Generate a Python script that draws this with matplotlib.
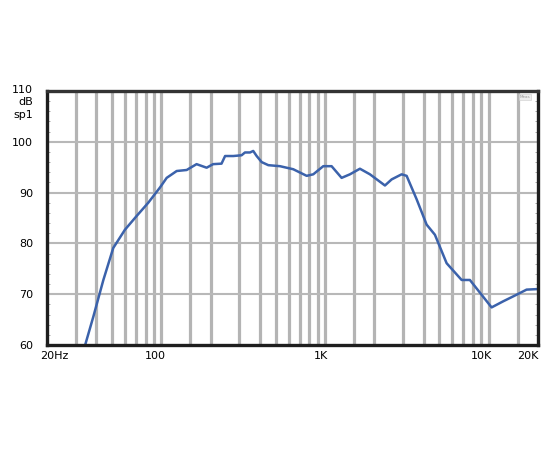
import numpy as np
import matplotlib
matplotlib.use('Agg')
import matplotlib.pyplot as plt
import matplotlib.transforms as mtransforms

# frequency response
freq = [34, 38.4, 44.2, 50.8, 59.9, 70.6, 83.1, 98, 107.7, 124, 142.7, 164, 189, 207,
        233, 245, 275, 309, 324, 348, 364, 382, 410, 450, 530, 639, 772, 847, 975,
        1096, 1262, 1419, 1633, 1880, 2322, 2552, 2936, 3150, 3625, 4173, 4690, 5530,
        6830, 7672, 10410, 12260, 14800, 17030, 19600, 21000]
spl = [59.7, 65.6, 72.8, 79.1, 82.7, 85.4, 88.0, 91.0, 92.9, 94.25, 94.45, 95.6, 94.9,
       95.6, 95.7, 97.2, 97.2, 97.35, 97.9, 97.9, 98.2, 97.2, 96.0, 95.4, 95.2, 94.6,
       93.3, 93.6, 95.2, 95.2, 92.9, 93.6, 94.7, 93.6, 91.4, 92.6, 93.6, 93.3, 88.7,
       83.7, 81.7, 76.1, 72.8, 72.8, 67.4, 68.6, 69.9, 70.9, 71.0, 71.0]

grid_freqs = [30, 40, 50, 60, 70, 80, 90, 100, 150, 200, 300, 400, 500, 600, 700, 800, 900,
              1000, 1500, 2000, 3000, 4000, 5000, 6000, 7000, 8000, 9000, 10000, 15000]
grid_db = [70, 80, 90, 100]

xtick_vals = [20, 100, 1000, 10000, 20000]
xtick_text = ['20Hz', '100', '1K', '10K', '20K']
xtick_shift = [7, -6, -4, -7, -10]  # pixel nudges of the labels
ytick_vals = [60, 70, 80, 90, 100]

fig = plt.figure(figsize=(5.5, 4.5), dpi=100)
ax = fig.add_axes([47 / 550, 1 - 345 / 450, 491 / 550, 254 / 450])

ax.set_xscale('log')
ax.set_xlim(20, 20000)
ax.set_ylim(60, 110)

for f in grid_freqs:
    ax.axvline(f, color='#b4b4b4', lw=2.3, zorder=1)
for d in grid_db:
    ax.axhline(d, color='#b8b8b8', lw=1.5, zorder=1)

ax.plot(freq, spl, color='#3b62ab', lw=1.8, zorder=3, clip_on=True)

for s in ax.spines.values():
    s.set_linewidth(2.4)
    s.set_color('#1e1e1e')
    s.set_zorder(4)
ax.spines['top'].set_color('#333333')

ax.set_xticks(xtick_vals)
ax.set_xticklabels(xtick_text)
ax.xaxis.set_minor_locator(matplotlib.ticker.NullLocator())
ax.tick_params(axis='x', length=0, pad=4, labelsize=8)
for lab, dx in zip(ax.get_xticklabels(), xtick_shift):
    lab.set_transform(lab.get_transform() + mtransforms.ScaledTranslation(dx / 100, 0, fig.dpi_scale_trans))

ax.set_yticks(ytick_vals)
ax.set_yticklabels([str(v) for v in ytick_vals])
ax.tick_params(axis='y', length=0, pad=10, labelsize=8)
ax.set_yticks(np.arange(60, 111, 2), minor=True)
ax.tick_params(axis='y', which='minor', direction='in', length=2, width=0.6,
               color='#999999', right=True)

# "110 / dB / sp1" block, first line level with the top edge
ax.text(-14 / 491, 110, '110\ndB\nsp1',
        transform=ax.get_yaxis_transform() + mtransforms.ScaledTranslation(0, 6 / 100, fig.dpi_scale_trans),
        ha='right', va='top', fontsize=8, linespacing=1.3)

ax.text(0.985, 0.985, 'Meas', transform=ax.transAxes, ha='right', va='top',
        fontsize=3, color='#999999',
        bbox=dict(boxstyle='square,pad=0.2', fc='#eeeeee', ec='#cccccc', lw=0.4), zorder=5)

fig.savefig('out.png', dpi=100)
